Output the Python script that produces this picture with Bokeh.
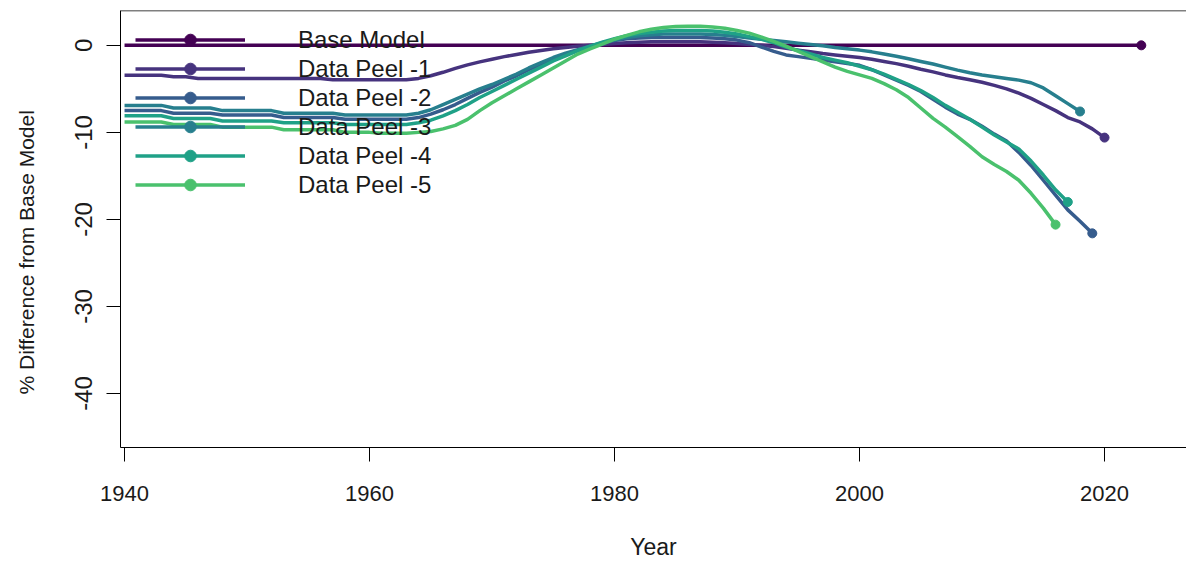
from bokeh.plotting import figure
from bokeh.models import Range1d, FixedTicker, Legend, LegendItem, Span
from bokeh.embed import file_html
from bokeh.resources import INLINE

# ---------------- data ----------------
first_year = 1940
series_names = ["Base Model", "Data Peel -1", "Data Peel -2",
                "Data Peel -3", "Data Peel -4", "Data Peel -5"]
series_colors = ["#440154", "#46337E", "#365C8D", "#277F8E", "#1FA187", "#4AC16D"]

base_model = [
    0, 0, 0, 0, 0, 0, 0, 0, 0, 0,
    0, 0, 0, 0, 0, 0, 0, 0, 0, 0,
    0, 0, 0, 0, 0, 0, 0, 0, 0, 0,
    0, 0, 0, 0, 0, 0, 0, 0, 0, 0,
    0, 0, 0, 0, 0, 0, 0, 0, 0, 0,
    0, 0, 0, 0, 0, 0, 0, 0, 0, 0,
    0, 0, 0, 0, 0, 0, 0, 0, 0, 0,
    0, 0, 0, 0, 0, 0, 0, 0, 0, 0,
    0, 0, 0, 0,
]  # 1940-2023

peel_1 = [
    -3.45, -3.45, -3.45, -3.45, -3.6, -3.6, -3.8, -3.8, -3.8, -3.8,
    -3.8, -3.8, -3.8, -3.8, -3.8, -3.8, -3.8, -3.95, -3.95, -3.95,
    -3.95, -3.95, -3.95, -3.95, -3.8, -3.5, -3.1, -2.65, -2.25, -1.9,
    -1.6, -1.3, -1.05, -0.8, -0.6, -0.4, -0.25, -0.1, 0.0, 0.1,
    0.2, 0.3, 0.35, 0.4, 0.4, 0.4, 0.4, 0.4, 0.35, 0.3,
    0.2, 0.1, 0.0, -0.15, -0.35, -0.55, -0.75, -0.95, -1.1, -1.25,
    -1.4, -1.6, -1.85, -2.1, -2.4, -2.75, -3.05, -3.4, -3.7, -3.95,
    -4.25, -4.6, -5.0, -5.5, -6.1, -6.8, -7.5, -8.3, -8.8, -9.6,
    -10.6,
]  # 1940-2020

peel_2 = [
    -7.5, -7.5, -7.5, -7.5, -7.8, -7.8, -7.8, -7.8, -8.0, -8.0,
    -8.0, -8.0, -8.0, -8.3, -8.3, -8.3, -8.3, -8.3, -8.5, -8.5,
    -8.5, -8.5, -8.5, -8.5, -8.3, -7.9, -7.4, -6.8, -6.1, -5.4,
    -4.8, -4.1, -3.5, -2.8, -2.2, -1.6, -1.05, -0.6, -0.15, 0.25,
    0.55, 0.75, 0.85, 0.9, 0.9, 0.9, 0.9, 0.9, 0.85, 0.75,
    0.6, 0.3, -0.2, -0.7, -1.1, -1.3, -1.5, -1.7, -1.9, -2.1,
    -2.3, -2.8, -3.4, -4.0, -4.6, -5.3, -6.2, -7.1, -7.9, -8.5,
    -9.3, -10.2, -11.0, -12.3, -13.8, -15.5, -17.2, -18.9, -20.2, -21.6,
]  # 1940-2019

peel_3 = [
    -6.9, -6.9, -6.9, -6.9, -7.2, -7.2, -7.2, -7.2, -7.5, -7.5,
    -7.5, -7.5, -7.5, -7.8, -7.8, -7.8, -7.8, -7.8, -8.0, -8.0,
    -8.0, -8.0, -8.0, -8.0, -7.8, -7.4, -6.8, -6.2, -5.6, -5.0,
    -4.5, -3.9, -3.3, -2.6, -2.0, -1.4, -0.9, -0.5, -0.1, 0.3,
    0.65, 0.9, 1.1, 1.2, 1.3, 1.3, 1.3, 1.3, 1.25, 1.15,
    1.0, 0.85, 0.7, 0.55, 0.4, 0.25, 0.1, -0.05, -0.25, -0.4,
    -0.55, -0.75, -1.0, -1.25, -1.55, -1.85, -2.15, -2.5, -2.85, -3.15,
    -3.4, -3.6, -3.8, -4.0, -4.3, -4.9, -5.8, -6.7, -7.6,
]  # 1940-2018

peel_4 = [
    -8.1, -8.1, -8.1, -8.1, -8.4, -8.4, -8.4, -8.4, -8.7, -8.7,
    -8.7, -8.7, -8.7, -8.9, -8.9, -8.9, -8.9, -8.9, -9.1, -9.1,
    -9.1, -9.1, -9.1, -9.1, -8.9, -8.6, -8.1, -7.5, -6.8, -6.0,
    -5.3, -4.6, -3.9, -3.2, -2.5, -1.8, -1.2, -0.6, -0.1, 0.35,
    0.75, 1.1, 1.35, 1.5, 1.65, 1.7, 1.7, 1.7, 1.65, 1.5,
    1.3, 1.0, 0.7, 0.3, -0.2, -0.6, -1.0, -1.4, -1.7, -2.0,
    -2.4, -2.8, -3.3, -3.9, -4.5, -5.2, -6.0, -6.9, -7.7, -8.5,
    -9.4, -10.3, -11.1, -11.9, -13.3, -14.9, -16.6, -18.0,
]  # 1940-2017

peel_5 = [
    -8.8, -8.8, -8.8, -8.8, -9.1, -9.1, -9.1, -9.1, -9.4, -9.4,
    -9.4, -9.4, -9.4, -9.7, -9.7, -9.7, -9.7, -9.7, -10.0, -10.0,
    -10.0, -10.1, -10.1, -10.1, -10.0, -9.9, -9.6, -9.2, -8.5, -7.5,
    -6.6, -5.8, -5.0, -4.2, -3.4, -2.6, -1.8, -1.0, -0.4, 0.15,
    0.7, 1.15, 1.55, 1.85, 2.05, 2.15, 2.2, 2.2, 2.1, 1.95,
    1.7, 1.4, 0.95, 0.45, -0.1, -0.7, -1.3, -1.9, -2.5, -3.0,
    -3.4, -3.8, -4.4, -5.1, -6.0, -7.2, -8.4, -9.4, -10.5, -11.6,
    -12.8, -13.7, -14.5, -15.5, -17.0, -18.7, -20.6,
]  # 1940-2016

all_series = [base_model, peel_1, peel_2, peel_3, peel_4, peel_5]

x_ticks = [1940, 1960, 1980, 2000, 2020]
x_tick_labels = ["1940", "1960", "1980", "2000", "2020"]
y_ticks = [0, -10, -20, -30, -40]
y_tick_labels = ["0", "-10", "-20", "-30", "-40"]
x_title = "Year"
y_title = "% Difference from Base Model"

x_lo, x_hi = 1939.67, 2026.69
y_lo, y_hi = -46.2, 4.0

# ---------------- figure ----------------
FONT = "Liberation Sans"
p = figure(width=1186, height=562, output_backend="svg", toolbar_location=None,
           x_range=Range1d(x_lo, x_hi), y_range=Range1d(y_lo, y_hi),
           min_border_left=120, min_border_right=0, min_border_top=10,
           min_border_bottom=115)
p.outline_line_color = None
p.background_fill_color = "white"
p.border_fill_color = "white"
p.xgrid.visible = False
p.ygrid.visible = False

for ax in (p.xaxis[0], p.yaxis[0]):
    ax.axis_line_color = "black"
    ax.axis_line_width = 1
    ax.major_tick_line_color = "black"
    ax.major_tick_out = 14
    ax.major_tick_in = 0
    ax.minor_tick_out = 0
    ax.minor_tick_in = 0
    ax.major_label_text_color = "#1a1a1a"
    ax.major_label_text_font = FONT
    ax.axis_label_text_font = FONT
    ax.axis_label_text_font_style = "normal"
    ax.axis_label_text_color = "#1a1a1a"

p.xaxis.major_label_text_font_size = "22px"
p.xaxis.axis_label_text_font_size = "23px"
p.yaxis.major_label_text_font_size = "24px"
p.yaxis.axis_label_text_font_size = "21px"

p.xaxis.ticker = FixedTicker(ticks=x_ticks)
p.yaxis.ticker = FixedTicker(ticks=y_ticks)
p.xaxis.major_label_overrides = dict(zip(x_ticks, x_tick_labels))
p.yaxis.major_label_overrides = dict(zip(y_ticks, y_tick_labels))
p.xaxis.axis_label = x_title
# trailing no-break spaces push the title a little lower, as in the reference
p.yaxis.axis_label = y_title + "\u00a0" * 8
p.yaxis.major_label_orientation = "vertical"
p.xaxis.major_label_standoff = 24
p.yaxis.major_label_standoff = 14
p.xaxis.axis_label_standoff = 30
p.yaxis.axis_label_standoff = 35

p.add_layout(Span(location=y_hi, dimension="width", line_color="black", line_width=1.5))

items = []
for name, color, vals in zip(series_names, series_colors, all_series):
    yrs = list(range(first_year, first_year + len(vals)))
    r_line = p.line(yrs, vals, line_color=color, line_width=3.5)
    r_pt = p.scatter([yrs[-1]], [vals[-1]], size=9, fill_color=color, line_color=color)
    items.append(LegendItem(label=name, renderers=[r_line, r_pt]))

legend = Legend(items=items, location=(15, 248), orientation="vertical",
                glyph_width=110, glyph_height=29, label_height=29,
                label_standoff=53, spacing=0, padding=0, margin=0,
                border_line_color=None, background_fill_alpha=0,
                label_text_font=FONT, label_text_font_size="24px",
                label_text_color="#1a1a1a")
p.add_layout(legend, "center")

open("out.html", "w").write(file_html(p, INLINE))
